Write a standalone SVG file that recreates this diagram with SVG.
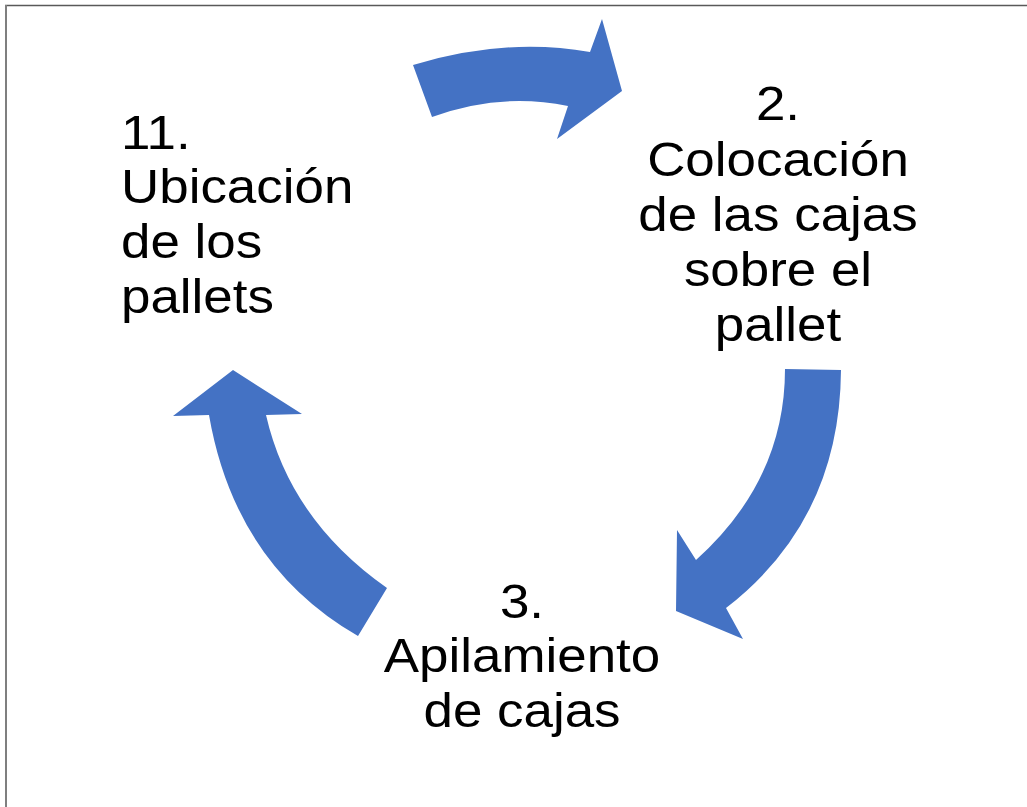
<svg xmlns="http://www.w3.org/2000/svg" width="1027" height="807" viewBox="0 0 1027 807">
<style>
.t{font-family:"Liberation Sans",Arial,sans-serif;font-size:49px;fill:#000}
.arr{fill:#4472C4}
</style>
<rect x="0" y="0" width="1027" height="807" fill="#fff"/>
<g id="frame">
<line x1="5" y1="5.5" x2="1027" y2="5.5" stroke="#595959" stroke-width="1.5"/>
<line x1="6" y1="5" x2="6" y2="807" stroke="#7f7f7f" stroke-width="2"/>
</g>
<g id="connectors">
<path class="arr" d="M413,65 Q505,37 590,52 L602,19 L622,91 L557,139 L568,106 Q500,92 432,117 Z"/>
<path class="arr" d="M785,369 L841,370 Q840,520 726,608 L743,639 L676,611 L677,530 L696,560 Q785,480 785,369 Z"/>
<path class="arr" d="M233,370 L302,414 L266,415 Q290,520 387,588 L358,636 Q235,565 209,415 L173,416 Z"/>
</g>
<g id="node-11">
<text class="t" transform="translate(121 0) scale(1.08 1)"><tspan x="0" y="149">11.</tspan><tspan x="0" y="203">Ubicación</tspan><tspan x="0" y="258">de los</tspan><tspan x="0" y="313">pallets</tspan></text>
</g>
<g id="node-2">
<text class="t" text-anchor="middle" transform="translate(778 0) scale(1.08 1)"><tspan x="0" y="120">2.</tspan><tspan x="0" y="176">Colocación</tspan><tspan x="0" y="231">de las cajas</tspan><tspan x="0" y="286">sobre el</tspan><tspan x="0" y="341">pallet</tspan></text>
</g>
<g id="node-3">
<text class="t" text-anchor="middle" transform="translate(522 0) scale(1.08 1)"><tspan x="0" y="618">3.</tspan><tspan x="0" y="672">Apilamiento</tspan><tspan x="0" y="727">de cajas</tspan></text>
</g>
</svg>
